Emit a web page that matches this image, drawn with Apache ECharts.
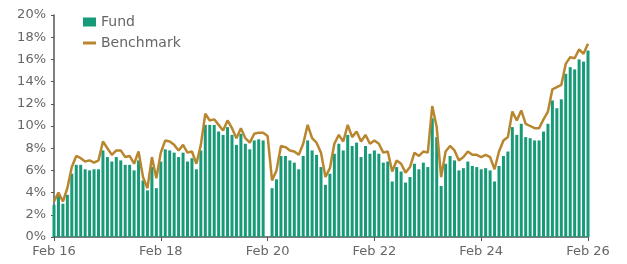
<!DOCTYPE html>
<html lang="en">
<head>
    <meta charset="UTF-8">
    <title>Fund vs Benchmark</title>
    <style>
        * { padding: 0; margin: 0; }
        #myChart { width: 627px; height: 264px; }
    </style>
</head>
<body>
    <div id="myChart"></div>
    <script src="https://cdn.jsdelivr.net/npm/echarts@6/dist/echarts.min.js"></script>
    <script>
        // monthly, Feb 2016 .. Feb 2026
        const monthNames = ["Jan", "Feb", "Mar", "Apr", "May", "Jun", "Jul", "Aug", "Sep", "Oct", "Nov", "Dec"];
        const categories = [];
        for (let k = 0; k <= 120; k++) {
            const m = (1 + k) % 12;
            const y = 16 + Math.floor((1 + k) / 12);
            categories.push(monthNames[m] + " " + y);
        }

        const fund = [
            2.9, 3.7, 3.0, 3.8, 5.7, 6.5, 6.5, 6.1, 6.0, 6.1,
            6.1, 7.8, 7.2, 6.8, 7.2, 6.9, 6.5, 6.5, 6.0, 6.9,
            5.1, 4.2, 6.3, 4.4, 6.8, 7.9, 7.8, 7.6, 7.2, 7.6,
            6.8, 7.1, 6.1, 7.8, 10.1, 10.1, 10.1, 9.5, 9.2, 9.9,
            9.2, 8.3, 9.3, 8.4, 7.9, 8.7, 8.8, 8.7, null, 4.4,
            5.2, 7.3, 7.3, 6.9, 6.7, 6.1, 7.3, 8.7, 7.8, 7.4,
            6.3, 4.7, 5.7, 7.5, 8.4, 7.8, 9.2, 8.2, 8.5, 7.2,
            8.2, 7.5, 7.8, 7.5, 6.7, 6.8, 5.0, 6.3, 5.9, 4.9,
            5.4, 6.6, 6.1, 6.7, 6.3, 10.7, 9.0, 4.6, 6.6, 7.3,
            6.9, 6.0, 6.2, 6.8, 6.4, 6.3, 6.1, 6.2, 6.0, 5.0,
            6.4, 7.3, 7.7, 9.9, 9.2, 10.2, 9.0, 8.9, 8.7, 8.7,
            9.5, 10.2, 12.3, 11.6, 12.4, 14.7, 15.3, 15.1, 16.0, 15.8,
            16.8
        ];

        const benchmark = [
            3.2, 4.0, 3.2, 4.4, 6.3, 7.3, 7.1, 6.8, 6.9, 6.7,
            6.9, 8.6, 8.0, 7.4, 7.8, 7.8, 7.2, 7.3, 6.6, 7.7,
            5.4, 4.4, 7.2, 5.3, 7.6, 8.7, 8.6, 8.3, 7.8, 8.3,
            7.6, 7.7, 6.6, 8.3, 11.1, 10.5, 10.6, 10.1, 9.6, 10.5,
            9.8, 8.9, 9.8, 8.9, 8.5, 9.3, 9.4, 9.4, 9.1, 5.1,
            6.0, 8.2, 8.1, 7.8, 7.7, 7.4, 8.4, 10.1, 8.9, 8.5,
            7.6, 5.4, 6.2, 8.4, 9.2, 8.6, 10.1, 9.0, 9.5, 8.6,
            9.2, 8.4, 8.7, 8.4, 7.6, 7.7, 5.9, 6.9, 6.6, 5.8,
            6.3, 7.6, 7.3, 7.7, 7.6, 11.8, 9.9, 5.4, 7.7, 8.2,
            7.8, 6.9, 7.2, 7.7, 7.4, 7.4, 7.2, 7.4, 7.2, 6.1,
            7.7, 8.7, 9.0, 11.3, 10.5, 11.4, 10.2, 10.0, 9.8, 9.8,
            10.6, 11.3, 13.3, 13.5, 13.7, 15.6, 16.2, 16.1, 16.9, 16.5,
            17.4
        ];

        const textColor = "#666";
        const axisColor = "#555";

        let myChart = echarts.init(document.getElementById('myChart'));
        let option = {
            backgroundColor: "#ffffff",
            animation: false,
            textStyle: { fontFamily: "DejaVu Sans" },
            grid: {
                left: 54,
                right: 39,
                top: 15,
                bottom: 27
            },
            legend: {
                orient: "vertical",
                left: 78,
                top: 10,
                itemWidth: 13,
                itemHeight: 9,
                itemGap: 7,
                textStyle: { color: textColor, fontSize: 14 },
                data: [
                    { name: "Fund", icon: "rect" },
                    { name: "Benchmark", icon: "path://M0,3 L13,3 L13,6 L0,6 Z" }
                ]
            },
            xAxis: {
                type: "category",
                data: categories,
                boundaryGap: false,
                axisLine: { lineStyle: { color: axisColor, width: 1.5 } },
                axisTick: {
                    interval: 23,
                    length: 4,
                    lineStyle: { color: axisColor }
                },
                axisLabel: {
                    interval: 23,
                    color: textColor,
                    fontSize: 13,
                    margin: 8
                }
            },
            yAxis: {
                type: "value",
                min: 0,
                max: 20,
                interval: 2,
                axisLine: { show: true, lineStyle: { color: axisColor, width: 1.5 } },
                axisTick: { show: true, length: 3, lineStyle: { color: axisColor } },
                splitLine: { show: false },
                axisLabel: {
                    color: textColor,
                    fontSize: 13,
                    margin: 8,
                    formatter: "{value}%"
                }
            },
            series: [
                {
                    name: "Fund",
                    type: "bar",
                    barWidth: 3,
                    itemStyle: { color: "#179a78" },
                    data: fund
                },
                {
                    name: "Benchmark",
                    type: "line",
                    symbol: "none",
                    lineStyle: { color: "#b8862e", width: 2.5 },
                    itemStyle: { color: "#b8862e" },
                    data: benchmark
                }
            ]
        };
        myChart.setOption(option, true);
    </script>
</body>
</html>
